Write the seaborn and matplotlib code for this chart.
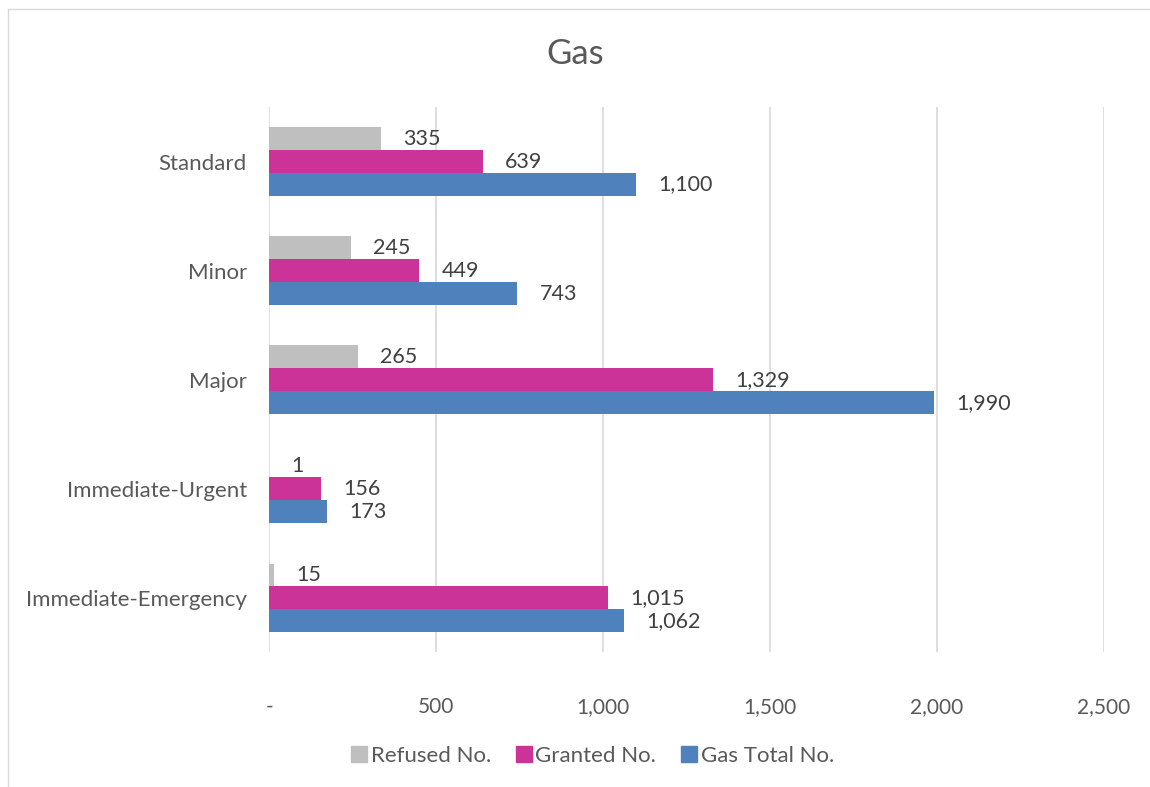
import pandas as pd
import matplotlib.pyplot as plt
import seaborn as sns
from matplotlib.ticker import FuncFormatter
from matplotlib.lines import Line2D

# Values
categories = ['Standard', 'Minor', 'Major', 'Immediate-Urgent', 'Immediate-Emergency']
series = ['Refused No.', 'Granted No.', 'Gas Total No.']
refused = [335, 245, 265, 1, 15]
granted = [639, 449, 1329, 156, 1015]
gas_total = [1100, 743, 1990, 173, 1062]
x_ticks = [0, 500, 1000, 1500, 2000, 2500]

colors = ['#BFBFBF', '#CC3399', '#4F81BD']
text_color = '#595959'

# Long form table for seaborn
df = pd.DataFrame({
    'category': categories * 3,
    'series': [series[0]] * 5 + [series[1]] * 5 + [series[2]] * 5,
    'value': refused + granted + gas_total,
})

sns.set_style('white')
plt.rcParams['font.family'] = ['Lato', 'DejaVu Sans']

fig = plt.figure(figsize=(11.5, 7.87), dpi=100)
ax = fig.add_axes([0.234, 0.171, 0.726, 0.693])

sns.barplot(data=df, x='value', y='category', hue='series', order=categories,
            hue_order=series, palette=colors, orient='h', width=0.63,
            saturation=1, linewidth=0, legend=False, ax=ax)

# Data labels
for container in ax.containers:
    ax.bar_label(container, labels=[f'{v:,.0f}' for v in container.datavalues],
                 padding=16, fontsize=15.5, color='#404040')

ax.set_xlim(0, 2500)
ax.set_xticks(x_ticks)
ax.xaxis.set_major_formatter(FuncFormatter(lambda v, p: '-' if v == 0 else f'{v:,.0f}'))
ax.grid(axis='x', color='#D9D9D9', linewidth=1.2)
ax.set_axisbelow(True)
for s in ax.spines.values():
    s.set_visible(False)
ax.tick_params(axis='x', length=0, pad=32, labelsize=15, labelcolor=text_color)
ax.tick_params(axis='y', length=0, pad=16, labelsize=16, labelcolor=text_color)
ax.set_xlabel('')
ax.set_ylabel('')

fig.suptitle('Gas', y=0.952, fontsize=25, color=text_color)

# Legend at the bottom
handles = [Line2D([0], [0], marker='s', linestyle='', markersize=11,
                  markerfacecolor=c, markeredgecolor=c) for c in colors]
fig.legend(handles, series, loc='center', bbox_to_anchor=(0.514, 0.04), ncol=3,
           frameon=False, fontsize=16, labelcolor=text_color, handletextpad=0.0,
           handlelength=1.0, columnspacing=1.0)

# Chart border (left and top edges visible in the crop)
fig.add_artist(Line2D([8 / 1150, 8 / 1150], [0, 1 - 9 / 787], transform=fig.transFigure,
                      color='#D9D9D9', linewidth=1))
fig.add_artist(Line2D([8 / 1150, 1], [1 - 9 / 787, 1 - 9 / 787], transform=fig.transFigure,
                      color='#D9D9D9', linewidth=1))

plt.savefig('out.png', dpi=100)
plt.close()
